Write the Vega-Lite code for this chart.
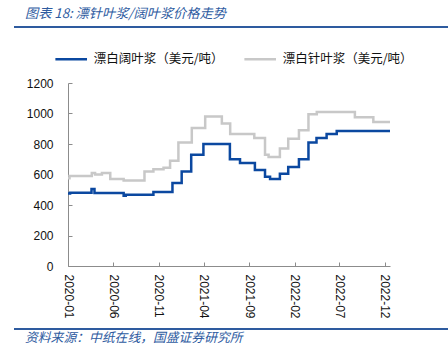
{
  "$schema": "https://vega.github.io/schema/vega-lite/v6.json",
  "padding": {"left": 14, "right": 0, "top": 6, "bottom": 0},
  "background": "white",
  "config": {"view": {"stroke": null}, "font": "Liberation Sans"},
  "spacing": 13,
  "resolve": {"scale": {"color": "independent"}, "legend": {"color": "independent"}},
  "vconcat": [
    {
      "width": 434,
      "height": 2,
      "view": {"fill": "#2E5B9F", "stroke": null},
      "title": {"text": "图表 18: 漂针叶浆/阔叶浆价格走势", "anchor": "start", "dx": 11, "offset": 5, "font": "Noto Sans CJK SC", "fontSize": 13.2, "fontStyle": "italic", "fontWeight": "normal", "color": "#2E5B9F"},
      "data": {"values": []},
      "mark": "point"
    },
    {
      "spacing": 9,
      "resolve": {"scale": {"color": "independent"}, "legend": {"color": "independent"}},
      "vconcat": [
        {
          "spacing": 11,
          "resolve": {"scale": {"color": "independent"}, "legend": {"color": "independent"}},
          "hconcat": [
            {"width": 1, "height": 1, "data": {"values": []}, "mark": "point", "view": {"stroke": null}},
            {
              "width": 322,
              "height": 183,
              "data": {"values": [
                {"date": "2020-01-01", "series": "漂白阔叶浆（美元/吨）", "price": 475},
                {"date": "2020-01-08", "series": "漂白阔叶浆（美元/吨）", "price": 480},
                {"date": "2020-03-20", "series": "漂白阔叶浆（美元/吨）", "price": 505},
                {"date": "2020-03-30", "series": "漂白阔叶浆（美元/吨）", "price": 478},
                {"date": "2020-07-06", "series": "漂白阔叶浆（美元/吨）", "price": 460},
                {"date": "2020-07-13", "series": "漂白阔叶浆（美元/吨）", "price": 467},
                {"date": "2020-10-14", "series": "漂白阔叶浆（美元/吨）", "price": 485},
                {"date": "2020-12-17", "series": "漂白阔叶浆（美元/吨）", "price": 545},
                {"date": "2021-01-17", "series": "漂白阔叶浆（美元/吨）", "price": 620},
                {"date": "2021-02-18", "series": "漂白阔叶浆（美元/吨）", "price": 730},
                {"date": "2021-03-31", "series": "漂白阔叶浆（美元/吨）", "price": 800},
                {"date": "2021-06-28", "series": "漂白阔叶浆（美元/吨）", "price": 700},
                {"date": "2021-08-01", "series": "漂白阔叶浆（美元/吨）", "price": 675},
                {"date": "2021-09-20", "series": "漂白阔叶浆（美元/吨）", "price": 630},
                {"date": "2021-10-24", "series": "漂白阔叶浆（美元/吨）", "price": 585},
                {"date": "2021-11-10", "series": "漂白阔叶浆（美元/吨）", "price": 570},
                {"date": "2021-12-13", "series": "漂白阔叶浆（美元/吨）", "price": 605},
                {"date": "2022-01-10", "series": "漂白阔叶浆（美元/吨）", "price": 650},
                {"date": "2022-02-15", "series": "漂白阔叶浆（美元/吨）", "price": 700},
                {"date": "2022-03-19", "series": "漂白阔叶浆（美元/吨）", "price": 810},
                {"date": "2022-04-15", "series": "漂白阔叶浆（美元/吨）", "price": 840},
                {"date": "2022-05-19", "series": "漂白阔叶浆（美元/吨）", "price": 865},
                {"date": "2022-06-22", "series": "漂白阔叶浆（美元/吨）", "price": 885},
                {"date": "2022-12-18", "series": "漂白阔叶浆（美元/吨）", "price": 885},
                {"date": "2020-01-01", "series": "漂白针叶浆（美元/吨）", "price": 575},
                {"date": "2020-01-06", "series": "漂白针叶浆（美元/吨）", "price": 590},
                {"date": "2020-03-21", "series": "漂白针叶浆（美元/吨）", "price": 610},
                {"date": "2020-04-01", "series": "漂白针叶浆（美元/吨）", "price": 600},
                {"date": "2020-04-24", "series": "漂白针叶浆（美元/吨）", "price": 610},
                {"date": "2020-05-22", "series": "漂白针叶浆（美元/吨）", "price": 570},
                {"date": "2020-07-06", "series": "漂白针叶浆（美元/吨）", "price": 560},
                {"date": "2020-09-14", "series": "漂白针叶浆（美元/吨）", "price": 620},
                {"date": "2020-10-14", "series": "漂白针叶浆（美元/吨）", "price": 635},
                {"date": "2020-11-17", "series": "漂白针叶浆（美元/吨）", "price": 645},
                {"date": "2020-12-09", "series": "漂白针叶浆（美元/吨）", "price": 690},
                {"date": "2021-01-06", "series": "漂白针叶浆（美元/吨）", "price": 810},
                {"date": "2021-02-20", "series": "漂白针叶浆（美元/吨）", "price": 905},
                {"date": "2021-04-06", "series": "漂白针叶浆（美元/吨）", "price": 980},
                {"date": "2021-06-01", "series": "漂白针叶浆（美元/吨）", "price": 935},
                {"date": "2021-06-29", "series": "漂白针叶浆（美元/吨）", "price": 865},
                {"date": "2021-09-18", "series": "漂白针叶浆（美元/吨）", "price": 840},
                {"date": "2021-10-24", "series": "漂白针叶浆（美元/吨）", "price": 730},
                {"date": "2021-11-05", "series": "漂白针叶浆（美元/吨）", "price": 715},
                {"date": "2021-12-13", "series": "漂白针叶浆（美元/吨）", "price": 770},
                {"date": "2022-01-10", "series": "漂白针叶浆（美元/吨）", "price": 835},
                {"date": "2022-02-15", "series": "漂白针叶浆（美元/吨）", "price": 890},
                {"date": "2022-03-19", "series": "漂白针叶浆（美元/吨）", "price": 995},
                {"date": "2022-04-16", "series": "漂白针叶浆（美元/吨）", "price": 1010},
                {"date": "2022-08-22", "series": "漂白针叶浆（美元/吨）", "price": 975},
                {"date": "2022-10-23", "series": "漂白针叶浆（美元/吨）", "price": 945},
                {"date": "2022-12-18", "series": "漂白针叶浆（美元/吨）", "price": 945}
              ]},
              "mark": {"type": "line", "interpolate": "step-after", "strokeWidth": 2.5},
              "encoding": {
                "x": {
                  "field": "date", "type": "temporal",
                  "scale": {"type": "utc", "nice": false, "domain": [{"year": 2020, "month": 1, "date": 1, "utc": true}, {"year": 2022, "month": 12, "date": 18, "utc": true}]},
                  "axis": {
                    "title": null, "grid": false,
                    "values": [
                      {"year": 2020, "month": 1, "date": 1, "utc": true},
                      {"year": 2020, "month": 6, "date": 1, "utc": true},
                      {"year": 2020, "month": 11, "date": 1, "utc": true},
                      {"year": 2021, "month": 4, "date": 1, "utc": true},
                      {"year": 2021, "month": 9, "date": 1, "utc": true},
                      {"year": 2022, "month": 2, "date": 1, "utc": true},
                      {"year": 2022, "month": 7, "date": 1, "utc": true},
                      {"year": 2022, "month": 12, "date": 1, "utc": true}
                    ],
                    "labelExpr": "utcFormat(datum.value, '%Y-%m')",
                    "labelAngle": 90, "labelAlign": "left", "labelBaseline": "middle",
                    "labelFontSize": 12, "labelColor": "#111111", "labelPadding": 12,
                    "labelFlush": false, "labelOverlap": false,
                    "tickSize": -4, "tickColor": "#8C8C8C", "domainColor": "#8C8C8C"
                  }
                },
                "y": {
                  "field": "price", "type": "quantitative",
                  "scale": {"domain": [0, 1200], "nice": false},
                  "axis": {
                    "title": null, "grid": false, "format": "d",
                    "values": [0, 200, 400, 600, 800, 1000, 1200],
                    "labelFontSize": 12, "labelColor": "#111111", "labelPadding": 19,
                    "tickSize": -4, "tickColor": "#8C8C8C", "domainColor": "#8C8C8C",
                    "minExtent": 40, "maxExtent": 40
                  }
                },
                "color": {
                  "field": "series", "type": "nominal",
                  "scale": {"domain": ["漂白阔叶浆（美元/吨）", "漂白针叶浆（美元/吨）"], "range": ["#0B48A0", "#C8C8C8"]},
                  "legend": {
                    "orient": "none", "legendX": -14.3, "legendY": -41.2, "direction": "horizontal",
                    "title": null, "symbolType": "stroke", "symbolSize": 1000, "symbolStrokeWidth": 2.5,
                    "labelFont": "Noto Sans CJK SC", "labelFontSize": 12.5, "labelColor": "#111111",
                    "labelOffset": 5, "columnPadding": 15, "padding": 0
                  }
                }
              }
            }
          ]
        },
        {
          "width": 434,
          "height": 2,
          "view": {"fill": "#2E5B9F", "stroke": null},
          "title": {"text": "资料来源：中纸在线，国盛证券研究所", "orient": "bottom", "anchor": "start", "dx": 11, "offset": 2, "font": "Noto Sans CJK SC", "fontSize": 12.8, "fontStyle": "italic", "fontWeight": "normal", "color": "#2E5B9F"},
          "data": {"values": []},
          "mark": "point"
        }
      ]
    }
  ]
}
